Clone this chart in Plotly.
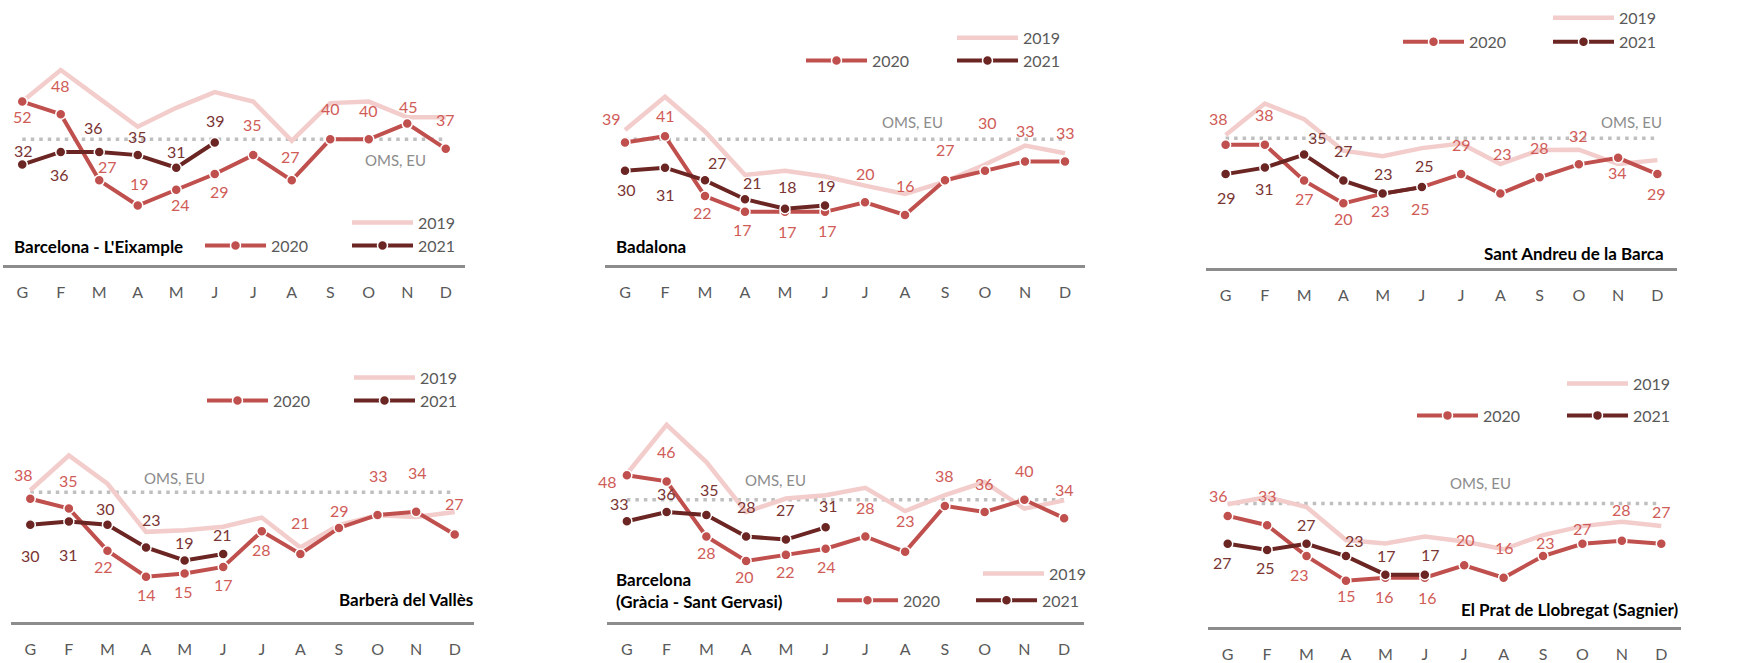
import plotly.graph_objects as go

W, H = 1749, 663

months = ["G", "F", "M", "A", "M", "J", "J", "A", "S", "O", "N", "D"]
who_limit = 40  # OMS / EU annual NO2 limit, µg/m³

# ---- monthly NO2 averages per station -------------------------------------
eixample_2019 = [52, 62, 53, 44, 50, 55, 52, 39.5, 51.5, 52, 47, 47]
eixample_2020 = [52, 48, 27, 19, 24, 29, 35, 27, 40, 40, 45, 37]
eixample_2021 = [32, 36, 36, 35, 31, 39]

badalona_2019 = [43, 53.5, 42.5, 28.7, 30, 28.2, 25.3, 22.7, 26.6, 32, 38, 35.6]
badalona_2020 = [39, 41, 22, 17, 17, 17, 20, 16, 27, 30, 33, 33]
badalona_2021 = [30, 31, 27, 21, 18, 19]

santandreu_2019 = [41, 50.7, 45.9, 36.2, 34.5, 37, 38.4, 32.1, 36.4, 36.5, 32.1, 33.3]
santandreu_2020 = [38, 38, 27, 20, 23, 25, 29, 23, 28, 32, 34, 29]
santandreu_2021 = [29, 31, 35, 27, 23, 25]

barbera_2019 = [40.6, 51.3, 42.6, 27.8, 28.3, 29.4, 32.2, 23, 29.9, 32.9, 32.4, 33.9]
barbera_2020 = [38, 35, 22, 14, 15, 17, 28, 21, 29, 33, 34, 27]
barbera_2021 = [30, 31, 30, 23, 19, 21]

gracia_2019 = [48.5, 64.5, 52.3, 36, 40.4, 41.5, 43.9, 36.3, 41.5, 45.8, 37.1, 39.8]
gracia_2020 = [48, 46, 28, 20, 22, 24, 28, 23, 38, 36, 40, 34]
gracia_2021 = [33, 36, 35, 28, 27, 31]

prat_2019 = [39.8, 42.1, 38.9, 28.2, 27.1, 29.3, 27.7, 25.2, 29.8, 32.7, 34.1, 32.7]
prat_2020 = [36, 33, 23, 15, 16, 16, 20, 16, 23, 27, 28, 27]
prat_2021 = [27, 25, 27, 23, 17, 17]

titles = [
    "Barcelona - L'Eixample",
    "Badalona",
    "Sant Andreu de la Barca",
    "Barberà del Vallès",
    "Barcelona<br>(Gràcia - Sant Gervasi)",
    "El Prat de Llobregat (Sagnier)",
]
series = [
    (eixample_2019, eixample_2020, eixample_2021),
    (badalona_2019, badalona_2020, badalona_2021),
    (santandreu_2019, santandreu_2020, santandreu_2021),
    (barbera_2019, barbera_2020, barbera_2021),
    (gracia_2019, gracia_2020, gracia_2021),
    (prat_2019, prat_2020, prat_2021),
]

# ---- label offsets (px, +dy = downwards) -----------------------------------
off_2020 = [
    [(0, 15), (0, -29), (8, -14), (2, -22), (4, 15), (5, 17), (-1, -31), (-1, -24), (0, -31), (0, -29), (1, -17), (0, -29)],
    [(-14, -24), (0, -21), (-3, 16), (-3, 18), (2, 20), (2, 19), (0, -29), (0, -29), (0, -31), (2, -48), (0, -31), (0, -29)],
    [(-7, -26), (0, -30), (0, 18), (0, 15), (-2, 17), (-1, 21), (0, -30), (2, -40), (0, -30), (0, -29), (-1, 15), (-1, 19)],
    [(-7, -24), (0, -28), (-4, 16), (0, 18), (-1, 18), (0, 18), (0, 18), (0, -31), (1, -17), (1, -39), (1, -39), (0, -31)],
    [(-19, 6), (0, -30), (0, 16), (-2, 16), (0, 17), (1, 18), (0, -29), (0, -31), (0, -30), (0, -29), (0, -29), (0, -29)],
    [(-9, -20), (0, -30), (-7, 18), (1, 15), (-1, 19), (3, 20), (1, -26), (1, -30), (2, -14), (0, -15), (0, -31), (0, -32)],
]
off_2021 = [
    [(1, -14), (-1, 23), (-6, -24), (0, -19), (0, -16), (1, -22)],
    [(1, 19), (0, 27), (12, -18), (7, -17), (2, -22), (1, -20)],
    [(1, 23), (0, 21), (13, -17), (0, -30), (1, -20), (3, -22)],
    [(0, 31), (0, 33), (-2, -16), (5, -28), (0, -18), (-1, -19)],
    [(-7, -18), (0, -19), (3, -26), (0, -30), (0, -30), (3, -22)],
    [(-5, 19), (-2, 18), (0, -19), (9, -16), (1, -19), (6, -20)],
]

# ---- panel geometry (pixels) ----------------------------------------------
# x extent of the axis line, pixel row of the zero line, px per µg/m³
panels = [
    dict(x0=3, x1=465, y0=267, s=3.17),
    dict(x0=605, x1=1085, y0=267, s=3.17),
    dict(x0=1206, x1=1677, y0=270, s=3.27),
    dict(x0=11, x1=474, y0=626, s=3.27),
    dict(x0=607, x1=1084, y0=626, s=3.08),
    dict(x0=1208, x1=1681, y0=631, s=3.11),
]
# title: (x px, y px, anchor)
title_pos = [(12, 248, "left"), (614, 248, "left"), (1666, 255, "right"),
             (475, 603, "right"), (614, 594, "left"), (1681, 613, "right")]
# legend line start (x px) and centre (y px) for 2019, 2020, 2021
legend_pos = [
    [(352, 224), (205, 247), (352, 247)],
    [(957, 38), (806, 61), (957, 61)],
    [(1553, 18), (1403, 42), (1553, 42)],
    [(354, 380), (207, 403), (354, 403)],
    [(983, 577), (837, 604), (976, 604)],
    [(1567, 386), (1417, 418), (1567, 418)],
]
# "OMS, EU" label: x in month units, vertical shift from the limit line (px, +down)
oms_pos = [(9.7, 21), (7.18, -17), (10.33, -16), (3.75, -14), (3.73, -20), (6.41, -21)]

C19 = "#F2CDCB"
C20 = "#C0504D"
C21 = "#6B2523"
L20 = "#D05C58"
L21 = "#7A3533"
FONT = "Lato, 'Open Sans', sans-serif"
YMAX = 70

fig = go.Figure()
annotations = []
layout_axes = {}

for k, (p, (s19, s20, s21)) in enumerate(zip(panels, series)):
    n = k + 1
    xa = "x" if n == 1 else f"x{n}"
    ya = "y" if n == 1 else f"y{n}"
    xkey = "xaxis" if n == 1 else f"xaxis{n}"
    ykey = "yaxis" if n == 1 else f"yaxis{n}"
    bottom = 1 - p["y0"] / H
    top = 1 - (p["y0"] - YMAX * p["s"]) / H
    layout_axes[xkey] = dict(
        domain=[p["x0"] / W, p["x1"] / W], range=[-0.5, 11.5], anchor=ya,
        tickvals=list(range(12)), ticktext=months, showgrid=False, zeroline=False,
        showline=True, linecolor="#8C8C8C", linewidth=2.5, ticks="",
        ticklabelstandoff=11, tickfont=dict(family=FONT, size=16, color="#595959"),
    )
    layout_axes[ykey] = dict(
        domain=[bottom, top], range=[0, YMAX], anchor=xa, visible=False,
    )

    lg = [f"legend{3 * k + i + 1}" if (3 * k + i) > 0 else "legend" for i in range(3)]

    fig.add_trace(go.Scatter(
        x=[0, 11], y=[who_limit, who_limit], mode="lines", xaxis=xa, yaxis=ya,
        line=dict(color="#BFBFBF", width=3.5, dash="3.5px,5px"), showlegend=False,
        hoverinfo="skip"))
    fig.add_trace(go.Scatter(
        x=list(range(12)), y=s19, mode="lines", name="2019", xaxis=xa, yaxis=ya,
        line=dict(color=C19, width=4.5), legend=lg[0]))
    fig.add_trace(go.Scatter(
        x=list(range(12)), y=s20, mode="lines+markers", name="2020", xaxis=xa, yaxis=ya,
        line=dict(color=C20, width=4),
        marker=dict(size=10, color=C20, line=dict(color="white", width=1.5)),
        legend=lg[1]))
    fig.add_trace(go.Scatter(
        x=list(range(len(s21))), y=s21, mode="lines+markers", name="2021",
        xaxis=xa, yaxis=ya, line=dict(color=C21, width=4),
        marker=dict(size=10, color=C21, line=dict(color="white", width=1.5)),
        legend=lg[2]))

    for i, v in enumerate(s20):
        dx, dy = off_2020[k][i]
        annotations.append(dict(
            x=i, y=v, xref=xa, yref=ya, text=str(v), showarrow=False,
            xshift=dx, yshift=-dy, font=dict(family=FONT, size=16, color=L20)))
    for i, v in enumerate(s21):
        dx, dy = off_2021[k][i]
        annotations.append(dict(
            x=i, y=v, xref=xa, yref=ya, text=str(v), showarrow=False,
            xshift=dx, yshift=-dy, font=dict(family=FONT, size=16, color=L21)))

    ox, oy = oms_pos[k]
    annotations.append(dict(
        x=ox, y=who_limit, xref=xa, yref=ya, text="OMS, EU", showarrow=False,
        yshift=-oy, font=dict(family=FONT, size=15, color="#8C8C8C")))

    tx, ty, anc = title_pos[k]
    annotations.append(dict(
        x=tx / W, y=1 - ty / H, xref="paper", yref="paper", text=f"<b>{titles[k]}</b>",
        showarrow=False, xanchor=anc, yanchor="middle", align=anc,
        font=dict(family=FONT, size=17, color="#000000")))

    for i, (lx, ly) in enumerate(legend_pos[k]):
        layout_axes[lg[i]] = dict(
            x=(lx - 5) / W, y=1 - ly / H, xanchor="left", yanchor="middle",
            bgcolor="rgba(0,0,0,0)", borderwidth=0, itemwidth=61,
            font=dict(family=FONT, size=16, color="#595959"),
            itemclick=False, itemdoubleclick=False, tracegroupgap=0,
        )

fig.update_layout(
    width=W, height=H, margin=dict(l=0, r=0, t=0, b=0),
    paper_bgcolor="white", plot_bgcolor="white",
    annotations=annotations, showlegend=True, **layout_axes,
)

fig.write_html("out.html")
